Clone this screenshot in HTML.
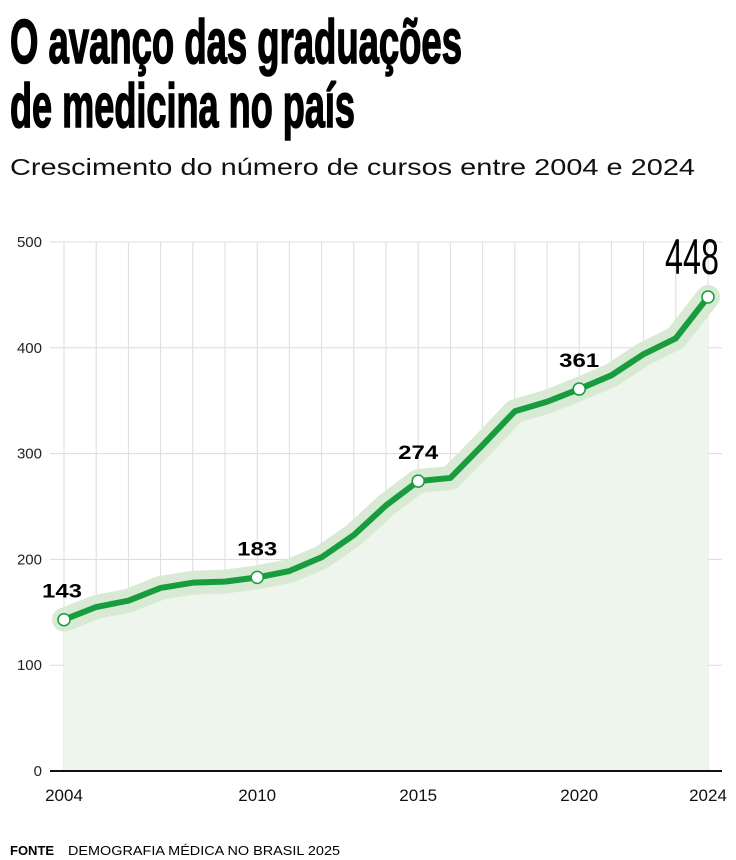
<!DOCTYPE html>
<html><head><meta charset="utf-8">
<style>
html,body{margin:0;padding:0;background:#fff;}
svg{display:block;}
text{font-family:"Liberation Sans",sans-serif;}
</style></head>
<body>
<svg id="chart" width="736" height="860" viewBox="0 0 736 860" xmlns="http://www.w3.org/2000/svg">
<text x="10" y="63" font-size="62" font-weight="bold" stroke="#000" stroke-width="1.6" textLength="452" lengthAdjust="spacingAndGlyphs" style="font-family:'Liberation Sans Narrow','Liberation Sans',sans-serif">O avanço das graduações</text>
<text x="10" y="127" font-size="62" font-weight="bold" stroke="#000" stroke-width="1.6" textLength="345" lengthAdjust="spacingAndGlyphs" style="font-family:'Liberation Sans Narrow','Liberation Sans',sans-serif">de medicina no país</text>
<text x="10" y="175" font-size="23" textLength="685" lengthAdjust="spacingAndGlyphs" fill="#111">Crescimento do número de cursos entre 2004 e 2024</text>
<g id="grid"></g>
<g id="series"></g>
<g id="labels"></g>
<text x="10" y="855" font-size="13" font-weight="bold">FONTE</text>
<text x="68" y="855" font-size="13" textLength="272" lengthAdjust="spacingAndGlyphs">DEMOGRAFIA MÉDICA NO BRASIL 2025</text>
</svg>
<script>
const years=[2004,2005,2006,2007,2008,2009,2010,2011,2012,2013,2014,2015,2016,2017,2018,2019,2020,2021,2022,2023,2024];
const courses=[143,155,161,173,178,179,183,189,202,223,251,274,277,308,340,349,361,374,394,409,448];
const yTicks=[0,100,200,300,400,500];
const xTickLabels=[2004,2010,2015,2020,2024];
const highlighted=[2004,2010,2015,2020];
const NS="http://www.w3.org/2000/svg";
const x=y=>64+(y-2004)*(708-64)/20;
const yS=v=>771-v*(771-242)/500;
function mk(tag,attrs,parent,txt){const e=document.createElementNS(NS,tag);for(const k in attrs)e.setAttribute(k,attrs[k]);if(txt!==undefined)e.textContent=txt;parent.appendChild(e);return e;}
const grid=document.getElementById('grid'),series=document.getElementById('series'),labels=document.getElementById('labels');
years.forEach(yr=>{const l=mk('line',{x1:x(yr),x2:x(yr),y1:yS(500),y2:yS(0),stroke:'#dcdcdc','stroke-width':1},grid);

});
yTicks.forEach(t=>{if(t>0){const l=mk('line',{x1:50,x2:722,y1:yS(t),y2:yS(t),stroke:'#dcdcdc','stroke-width':1},grid);

}
const tx=mk('text',{x:42,y:yS(t)+5,'font-size':15,'text-anchor':'end',fill:'#222'},grid,t);

});
xTickLabels.forEach(t=>{const tx=mk('text',{x:x(t),y:801,'font-size':17,'text-anchor':'middle',fill:'#111'},grid,t);

});
const pts=years.map((yr,i)=>x(yr)+','+yS(courses[i])).join(' ');
const area=mk('polygon',{points:x(years[0])+','+yS(0)+' '+pts+' '+x(years[years.length-1])+','+yS(0),fill:'#eef5ec'},series);


const halo=mk('polyline',{points:pts,fill:'none',stroke:'#d9ead4','stroke-width':24,'stroke-linejoin':'round','stroke-linecap':'round'},series);


const line=mk('polyline',{points:pts,fill:'none',stroke:'#179c3e','stroke-width':6,'stroke-linejoin':'round','stroke-linecap':'round'},series);


const axis=mk('line',{x1:50,x2:722,y1:yS(0),y2:yS(0),stroke:'#111','stroke-width':2},series);


years.forEach((yr,i)=>{
 const last=i===years.length-1;
 if(highlighted.includes(yr)||last){
  const c=mk('circle',{cx:x(yr),cy:yS(courses[i]),r:6,fill:'#fff',stroke:'#179c3e','stroke-width':1.5},series);
  
  
  let t;
  if(last){t=mk('text',{x:x(yr)-16,y:yS(courses[i])-23,'font-size':50,'font-weight':'normal','text-anchor':'middle',textLength:54,lengthAdjust:'spacingAndGlyphs',style:"font-family:'Liberation Sans Narrow','Liberation Sans',sans-serif"},labels,courses[i]);}
  else{t=mk('text',{x:x(yr)+(i===0?-2:0),y:yS(courses[i])-22,'font-size':19,'font-weight':'bold','text-anchor':'middle',textLength:40,lengthAdjust:'spacingAndGlyphs'},labels,courses[i]);}
  
  
 }
});
</script>
</body></html>
